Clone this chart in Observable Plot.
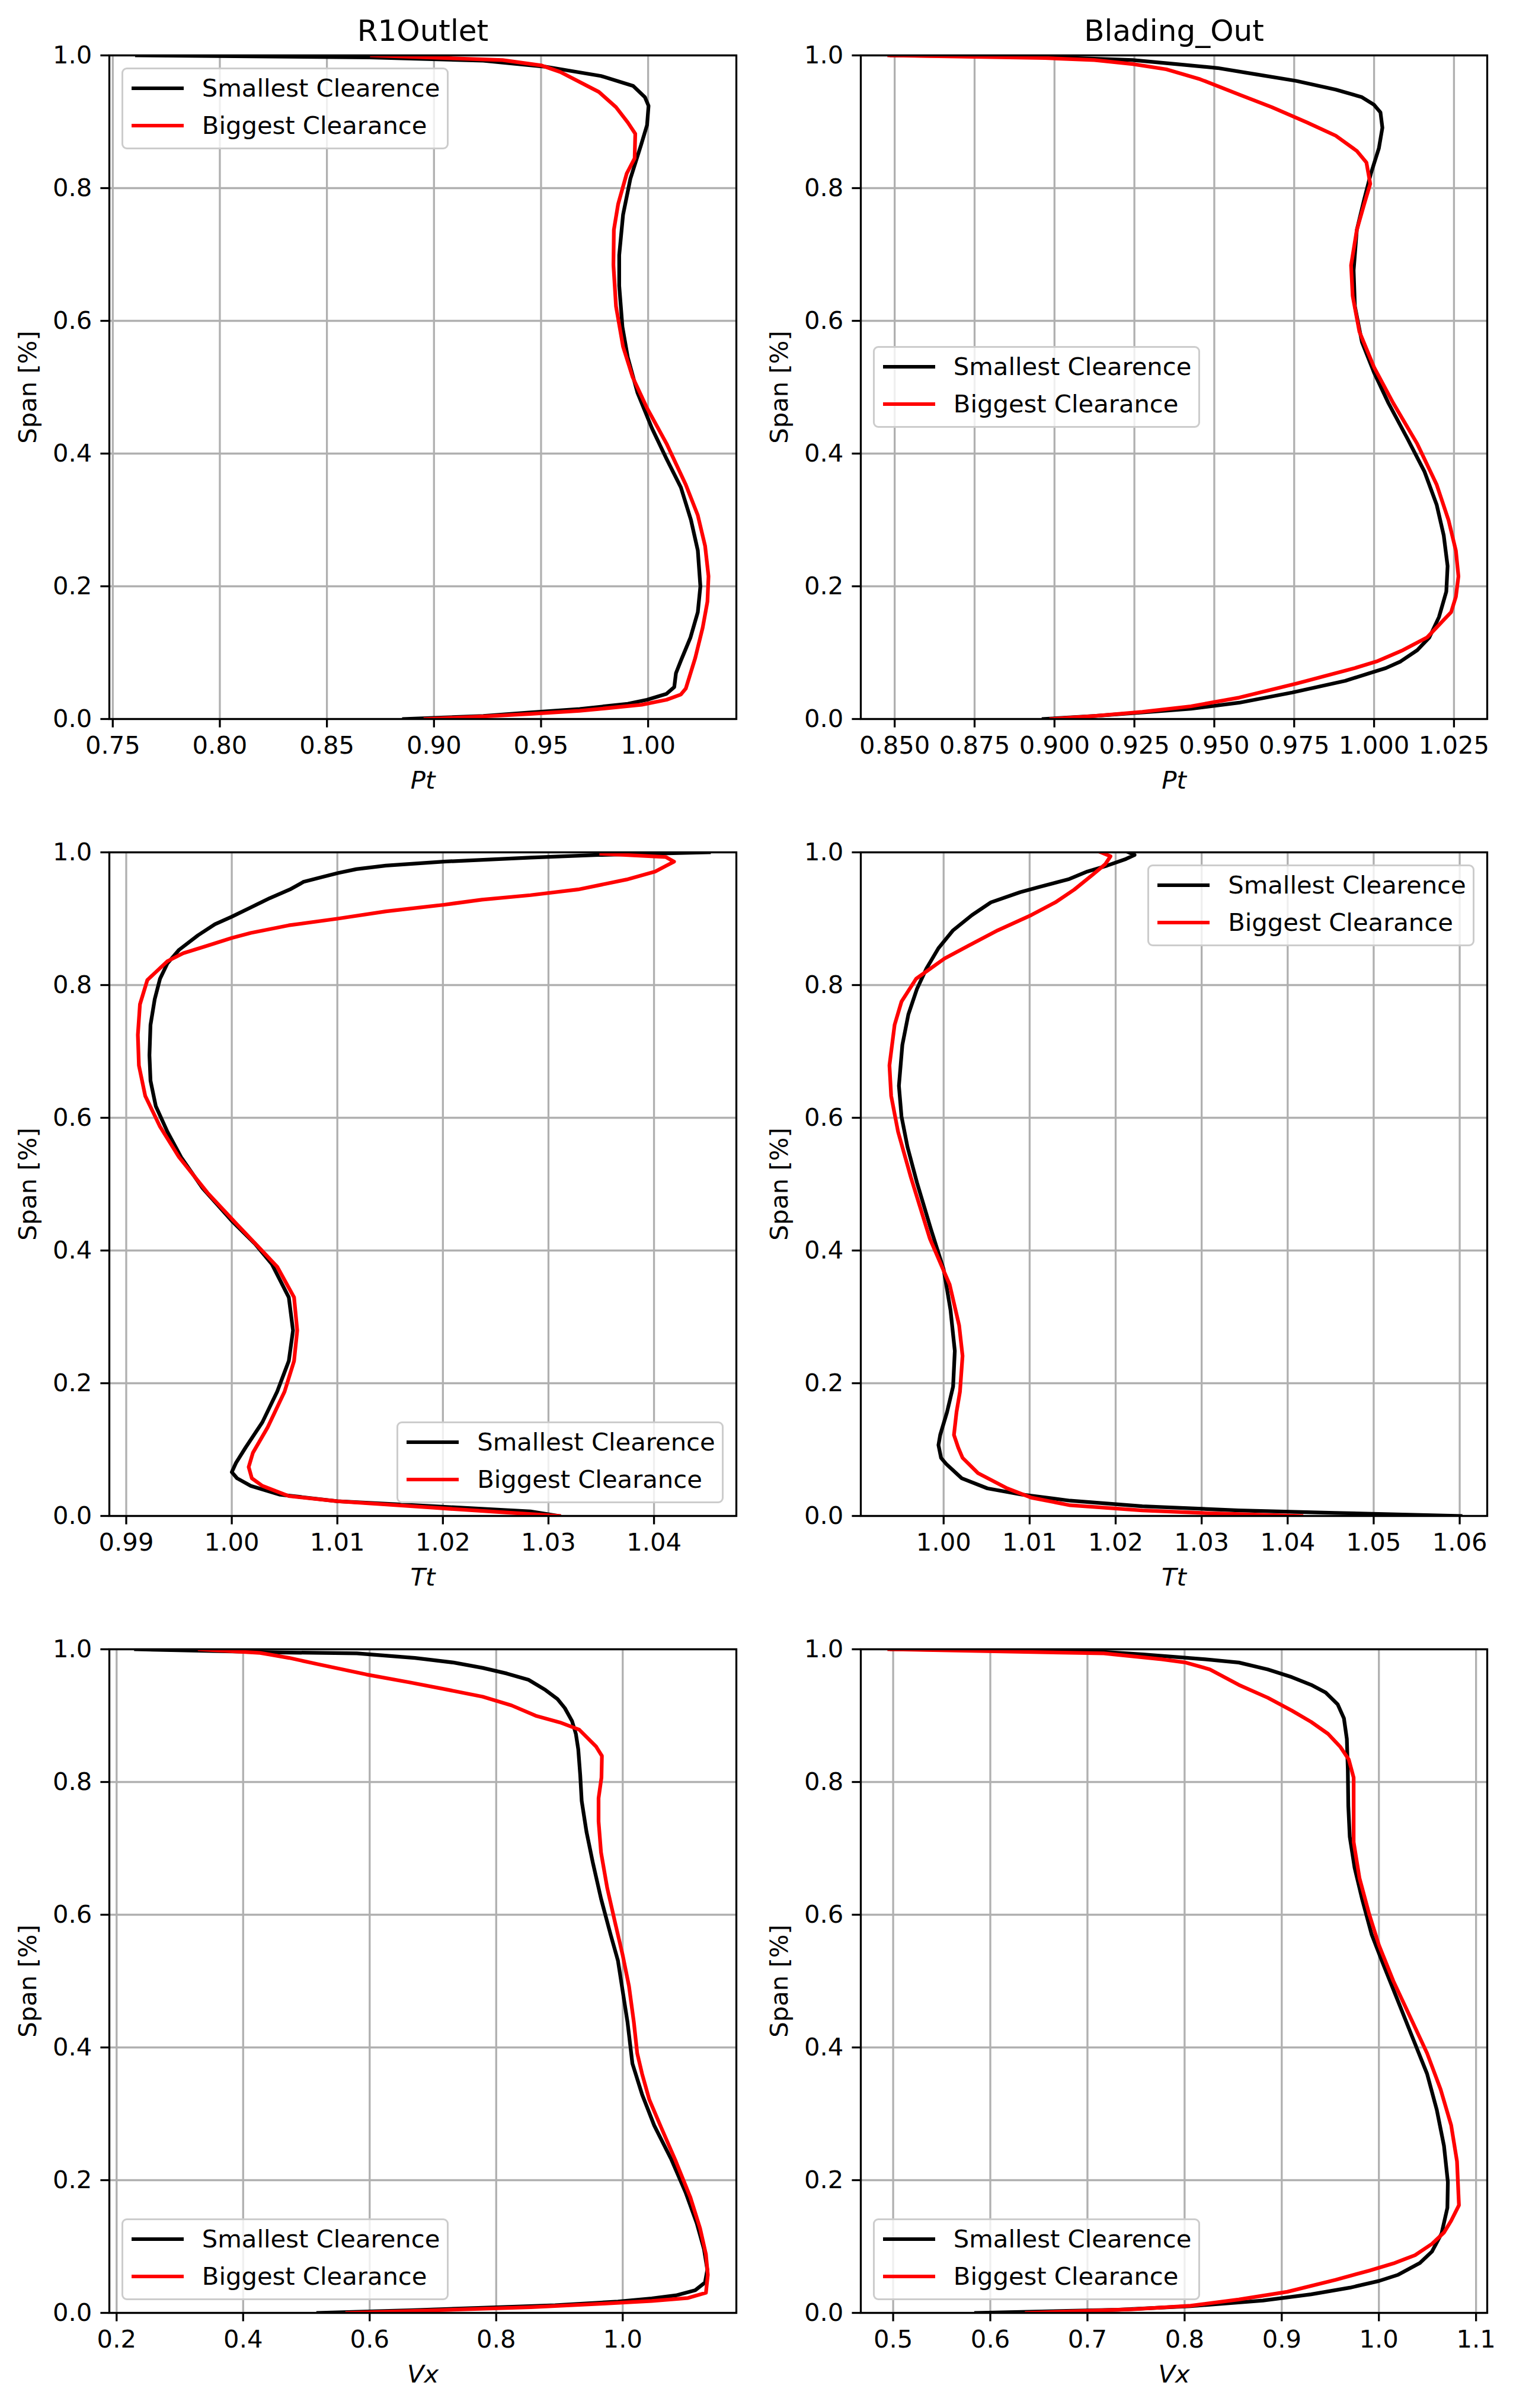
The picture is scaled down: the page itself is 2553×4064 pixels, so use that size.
<!DOCTYPE html>
<html><head><meta charset="utf-8">
<script src="https://cdn.jsdelivr.net/npm/d3@7"></script>
<script src="https://cdn.jsdelivr.net/npm/@observablehq/plot@0.6"></script>
<style>
body{margin:0;background:#fff;}
#fig{position:relative;width:2553px;height:4064px;background:#fff;font-family:"DejaVu Sans",sans-serif;overflow:hidden;}
#fig svg{position:absolute;overflow:visible;}
.legend{position:absolute;box-sizing:border-box;width:552px;height:138px;border:3.3px solid #cccccc;border-radius:9px;background:rgba(255,255,255,0.8);}
.lh{position:absolute;left:14px;width:88px;height:6.25px;}
.lt{position:absolute;left:133px;font-size:41.7px;line-height:1;white-space:nowrap;transform:translateY(-50%);color:#000;}
</style>
</head><body>
<div id="fig"></div>
<script>
// ---- tick values & labels ----
const spanTicks = [0, 0.2, 0.4, 0.6, 0.8, 1.0];
const spanLabels = ["0.0", "0.2", "0.4", "0.6", "0.8", "1.0"];
const r1PtTicks = [0.75, 0.80, 0.85, 0.90, 0.95, 1.00];
const r1PtLabels = ["0.75", "0.80", "0.85", "0.90", "0.95", "1.00"];
const boPtTicks = [0.850, 0.875, 0.900, 0.925, 0.950, 0.975, 1.000, 1.025];
const boPtLabels = ["0.850", "0.875", "0.900", "0.925", "0.950", "0.975", "1.000", "1.025"];
const r1TtTicks = [0.99, 1.00, 1.01, 1.02, 1.03, 1.04];
const r1TtLabels = ["0.99", "1.00", "1.01", "1.02", "1.03", "1.04"];
const boTtTicks = [1.00, 1.01, 1.02, 1.03, 1.04, 1.05, 1.06];
const boTtLabels = ["1.00", "1.01", "1.02", "1.03", "1.04", "1.05", "1.06"];
const r1VxTicks = [0.2, 0.4, 0.6, 0.8, 1.0];
const r1VxLabels = ["0.2", "0.4", "0.6", "0.8", "1.0"];
const boVxTicks = [0.5, 0.6, 0.7, 0.8, 0.9, 1.0, 1.1];
const boVxLabels = ["0.5", "0.6", "0.7", "0.8", "0.9", "1.0", "1.1"];

const titles = ["R1Outlet", "Blading_Out"];
const seriesNames = ["Smallest Clearence", "Biggest Clearance"];
const seriesColors = ["#000000", "#ff0000"];

// ---- series: [value, span] ----
const r1PtSmall = [[0.7613,1.0],[0.87,0.997],[0.923,0.992],[0.952,0.983],[0.978,0.969],[0.993,0.954],[0.9985,0.937],[1.0002,0.924],[0.9995,0.895],[0.9966,0.864],[0.9917,0.814],[0.9883,0.760],[0.9865,0.699],[0.9865,0.653],[0.988,0.591],[0.9905,0.545],[0.995,0.492],[1.0018,0.438],[1.0086,0.392],[1.0153,0.349],[1.020,0.300],[1.0232,0.254],[1.0244,0.200],[1.0232,0.161],[1.0198,0.123],[1.0153,0.088],[1.013,0.069],[1.0122,0.048],[1.0086,0.038],[0.9995,0.029],[0.9905,0.023],[0.968,0.015],[0.945,0.010],[0.923,0.0046],[0.886,0.0]];
const r1PtBig = [[0.871,1.0],[0.932,0.993],[0.950,0.985],[0.959,0.975],[0.977,0.945],[0.985,0.922],[0.9905,0.899],[0.994,0.882],[0.9937,0.845],[0.990,0.822],[0.986,0.776],[0.984,0.737],[0.9838,0.684],[0.985,0.622],[0.9883,0.561],[0.9928,0.515],[0.9995,0.4685],[1.0086,0.415],[1.0176,0.353],[1.0232,0.307],[1.0266,0.261],[1.0282,0.215],[1.0277,0.177],[1.0255,0.138],[1.022,0.092],[1.0176,0.046],[1.0153,0.037],[1.0086,0.029],[0.997,0.0215],[0.968,0.0123],[0.945,0.0077],[0.923,0.0038],[0.896,0.0]];
const boPtSmall = [[0.849,1.0],[0.9004,0.997],[0.9245,0.993],[0.938,0.987],[0.951,0.981],[0.963,0.9716],[0.9756,0.9616],[0.988,0.9485],[0.9962,0.937],[1.0,0.9255],[1.002,0.914],[1.0026,0.891],[1.0015,0.860],[0.999,0.822],[0.9969,0.783],[0.9946,0.737],[0.9936,0.676],[0.994,0.622],[0.9962,0.568],[1.0,0.522],[1.0045,0.476],[1.0105,0.422],[1.0158,0.3725],[1.0196,0.3226],[1.0218,0.2765],[1.023,0.2304],[1.0226,0.192],[1.0203,0.1536],[1.0173,0.123],[1.0135,0.1037],[1.0083,0.0868],[1.0037,0.0768],[0.9985,0.069],[0.991,0.0576],[0.9744,0.040],[0.9578,0.0246],[0.9427,0.0154],[0.9275,0.010],[0.9125,0.0046],[0.8966,0.0]];
const boPtBig = [[0.8483,1.0],[0.897,0.996],[0.9125,0.993],[0.9245,0.987],[0.935,0.979],[0.9456,0.964],[0.9578,0.941],[0.968,0.922],[0.979,0.899],[0.988,0.879],[0.9946,0.856],[0.9976,0.8387],[0.9988,0.8065],[0.9969,0.7757],[0.9946,0.737],[0.9928,0.6836],[0.9933,0.6375],[0.9954,0.5837],[1.0,0.530],[1.006,0.476],[1.0135,0.4147],[1.0196,0.353],[1.0233,0.2995],[1.0256,0.2535],[1.0264,0.215],[1.0256,0.1843],[1.0241,0.161],[1.0166,0.123],[1.009,0.1037],[1.0008,0.0868],[0.994,0.0768],[0.976,0.0538],[0.9578,0.0323],[0.9427,0.0192],[0.9275,0.0108],[0.9125,0.0046],[0.899,0.0]];
const r1TtSmall = [[1.0452,1.0],[1.0347,0.996],[1.0283,0.992],[1.0201,0.986],[1.0146,0.980],[1.0118,0.9747],[1.0101,0.969],[1.0086,0.963],[1.0068,0.9555],[1.0055,0.944],[1.0036,0.931],[1.0018,0.917],[1.0,0.903],[0.9984,0.8917],[0.9968,0.875],[0.995,0.853],[0.9939,0.8326],[0.9932,0.8095],[0.9927,0.7788],[0.9923,0.740],[0.9922,0.6943],[0.9923,0.656],[0.9928,0.6175],[0.9939,0.579],[0.9952,0.5407],[0.9972,0.4946],[1.0,0.4447],[1.0022,0.410],[1.0038,0.3794],[1.0054,0.3295],[1.0058,0.2796],[1.0054,0.2335],[1.0043,0.1874],[1.0029,0.1413],[1.0013,0.1029],[1.0004,0.080],[1.0,0.066],[1.0005,0.0568],[1.0018,0.0453],[1.0045,0.0323],[1.0100,0.0223],[1.0192,0.0146],[1.0283,0.0069],[1.031,0.0]];
const r1TtBig = [[1.0350,0.998],[1.0411,0.993],[1.0419,0.986],[1.0413,0.981],[1.0401,0.971],[1.0374,0.959],[1.0328,0.944],[1.0283,0.9355],[1.0237,0.9286],[1.0201,0.921],[1.0146,0.911],[1.0100,0.900],[1.0054,0.890],[1.0018,0.8786],[1.0,0.871],[0.9977,0.8594],[0.9954,0.848],[0.9939,0.836],[0.9920,0.8076],[0.9913,0.771],[0.9911,0.725],[0.9912,0.679],[0.9918,0.633],[0.9932,0.5868],[0.995,0.5407],[0.9977,0.487],[1.0004,0.4409],[1.0027,0.4025],[1.0043,0.3756],[1.0059,0.3295],[1.0062,0.2796],[1.0059,0.2335],[1.005,0.1874],[1.0034,0.1336],[1.002,0.0952],[1.0016,0.0737],[1.0019,0.0568],[1.0029,0.0453],[1.0054,0.030],[1.0100,0.0223],[1.0192,0.0123],[1.031,0.0]];
const boTtSmall = [[1.0215,1.0],[1.0222,0.996],[1.0212,0.990],[1.019,0.980],[1.0167,0.971],[1.0145,0.9593],[1.0111,0.9478],[1.0089,0.940],[1.0055,0.9247],[1.0033,0.9055],[1.0011,0.8825],[0.9994,0.8556],[0.998,0.8249],[0.9969,0.7942],[0.9959,0.7558],[0.9952,0.7097],[0.9948,0.6482],[0.9951,0.6022],[0.9958,0.556],[0.9969,0.5023],[0.9985,0.4332],[1.0,0.3717],[1.0008,0.3103],[1.0013,0.2488],[1.0011,0.195],[1.0004,0.1567],[0.9996,0.1221],[0.9994,0.1068],[0.9997,0.0876],[1.0003,0.0783],[1.0021,0.0568],[1.0051,0.0415],[1.0091,0.0323],[1.0147,0.023],[1.0231,0.0146],[1.0343,0.0084],[1.0455,0.0046],[1.0601,0.0]];
const boTtBig = [[1.0183,1.0],[1.0194,0.994],[1.0188,0.9823],[1.0174,0.967],[1.0152,0.944],[1.013,0.9247],[1.0102,0.9055],[1.0063,0.8825],[1.0029,0.8594],[1.0001,0.840],[0.9968,0.8095],[0.9951,0.775],[0.9943,0.740],[0.9937,0.679],[0.9939,0.633],[0.9947,0.579],[0.9962,0.510],[0.9984,0.4178],[1.0007,0.3487],[1.0018,0.2873],[1.0022,0.2412],[1.0019,0.1874],[1.0015,0.1567],[1.0012,0.1221],[1.0017,0.1029],[1.0022,0.0876],[1.004,0.0645],[1.0074,0.0415],[1.0102,0.0276],[1.0147,0.0161],[1.0231,0.0084],[1.0315,0.0038],[1.0416,0.0]];
const r1VxSmall = [[0.2306,1.0],[0.4575,0.9953],[0.5798,0.9938],[0.6715,0.987],[0.7326,0.980],[0.7785,0.972],[0.8167,0.9635],[0.8511,0.954],[0.8778,0.9387],[0.8969,0.925],[0.9084,0.9115],[0.9198,0.892],[0.9259,0.8727],[0.9297,0.8494],[0.9328,0.8106],[0.9351,0.7717],[0.9427,0.725],[0.9527,0.6786],[0.9657,0.6242],[0.9809,0.5699],[0.9924,0.531],[1.0,0.4845],[1.0076,0.4379],[1.0153,0.3758],[1.0306,0.3292],[1.0497,0.2826],[1.0764,0.2321],[1.0993,0.1817],[1.117,0.1351],[1.1284,0.0963],[1.1337,0.0652],[1.13,0.0458],[1.1146,0.0342],[1.084,0.0264],[1.0458,0.0217],[0.9924,0.0171],[0.893,0.0116],[0.7785,0.0078],[0.6638,0.0039],[0.5187,0.0]];
const r1VxBig = [[0.3314,1.0],[0.4268,0.9946],[0.4727,0.987],[0.5185,0.9775],[0.595,0.962],[0.6638,0.950],[0.725,0.9387],[0.7785,0.9286],[0.8243,0.9154],[0.8625,0.8998],[0.9007,0.8898],[0.9312,0.8789],[0.9580,0.8533],[0.9671,0.8393],[0.9664,0.8067],[0.9618,0.7756],[0.9618,0.7407],[0.9657,0.694],[0.9756,0.6398],[0.9886,0.5854],[1.0,0.5388],[1.0099,0.4922],[1.0176,0.4379],[1.0229,0.3913],[1.0306,0.3602],[1.042,0.3214],[1.0611,0.2787],[1.084,0.2283],[1.107,0.1739],[1.1223,0.1273],[1.1315,0.0885],[1.1345,0.0575],[1.1315,0.0303],[1.1032,0.0225],[1.0458,0.0179],[0.9694,0.014],[0.8549,0.0085],[0.7021,0.0039],[0.5645,0.0]];
const boVxSmall = [[0.4985,1.0],[0.7069,0.9969],[0.7566,0.9922],[0.8211,0.985],[0.8558,0.980],[0.8856,0.9697],[0.9104,0.958],[0.9303,0.9464],[0.9452,0.9348],[0.9576,0.917],[0.964,0.896],[0.967,0.865],[0.968,0.8183],[0.9685,0.764],[0.970,0.7174],[0.975,0.6708],[0.9826,0.6242],[0.9926,0.5699],[1.005,0.5233],[1.0199,0.469],[1.0347,0.4146],[1.0496,0.3603],[1.0596,0.3059],[1.067,0.2516],[1.071,0.1972],[1.0705,0.1584],[1.0645,0.1196],[1.0546,0.0924],[1.0422,0.0753],[1.0199,0.0575],[1.0,0.0481],[0.9702,0.038],[0.9303,0.028],[0.8806,0.0186],[0.806,0.0101],[0.7318,0.0047],[0.5854,0.0]];
const boVxBig = [[0.496,1.0],[0.7168,0.9938],[0.7764,0.985],[0.8012,0.980],[0.826,0.9697],[0.8558,0.9464],[0.8856,0.927],[0.9104,0.9076],[0.9303,0.8905],[0.9476,0.8727],[0.9601,0.8533],[0.969,0.8339],[0.974,0.8067],[0.974,0.764],[0.974,0.7096],[0.98,0.6553],[0.99,0.6009],[1.0,0.5543],[1.0149,0.5],[1.0323,0.4457],[1.0496,0.3913],[1.0635,0.337],[1.0744,0.2826],[1.0804,0.2283],[1.0824,0.1623],[1.0744,0.139],[1.067,0.1211],[1.0546,0.104],[1.0372,0.087],[1.0149,0.0745],[0.99,0.0637],[0.9553,0.0497],[0.9057,0.0318],[0.8558,0.0202],[0.8062,0.0109],[0.7467,0.0054],[0.6375,0.0]];

// ---- layout (px) ----
const colLeft = [184, 1452], colWidth = [1058, 1057];
const rowTop = [93, 1438, 2783], rowHeight = 1120;
const M = {top: 100, right: 40, bottom: 140, left: 180};

const panels = [
  {r:0,c:0,xlab:"Pt",ticks:r1PtTicks,labels:r1PtLabels,domain:[0.7484,1.0412],s:[r1PtSmall,r1PtBig],legend:"ul",title:titles[0]},
  {r:0,c:1,xlab:"Pt",ticks:boPtTicks,labels:boPtLabels,domain:[0.8394,1.0354],s:[boPtSmall,boPtBig],legend:"cl",title:titles[1]},
  {r:1,c:0,xlab:"Tt",ticks:r1TtTicks,labels:r1TtLabels,domain:[0.9884,1.0478],s:[r1TtSmall,r1TtBig],legend:"lr"},
  {r:1,c:1,xlab:"Tt",ticks:boTtTicks,labels:boTtLabels,domain:[0.99037,1.0632],s:[boTtSmall,boTtBig],legend:"ur"},
  {r:2,c:0,xlab:"Vx",ticks:r1VxTicks,labels:r1VxLabels,domain:[0.1885,1.1796],s:[r1VxSmall,r1VxBig],legend:"ll"},
  {r:2,c:1,xlab:"Vx",ticks:boVxTicks,labels:boVxLabels,domain:[0.4667,1.1115],s:[boVxSmall,boVxBig],legend:"ll"}
];

const fig = document.getElementById("fig");
const spanMap = new Map(spanTicks.map((t,i)=>[t,spanLabels[i]]));
const LW = 3.3, FS = 41.7;

for (const p of panels) {
  const L = colLeft[p.c], T = rowTop[p.r], W = colWidth[p.c], H = rowHeight;
  const xMap = new Map(p.ticks.map((t,i)=>[t,p.labels[i]]));
  const marks = [
    Plot.gridX(p.ticks, {stroke:"#b0b0b0", strokeOpacity:1, strokeWidth:LW}),
    Plot.gridY(spanTicks, {stroke:"#b0b0b0", strokeOpacity:1, strokeWidth:LW}),
  ];
  p.s.forEach((ser, k) => {
    marks.push(Plot.line(ser, {x: d=>d[0], y: d=>d[1], stroke: seriesColors[k], strokeWidth: 6.25, clip: true, strokeLinejoin:"round", strokeLinecap:"square"}));
  });
  marks.push(
    Plot.frame({stroke:"#000", strokeWidth:LW}),
    Plot.axisX(p.ticks, {tickFormat: d=>xMap.get(d), tickSize:14.6, tickPadding:14.6, strokeWidth:LW, fontSize:FS, label:null}),
    Plot.axisY(spanTicks, {tickFormat: d=>spanMap.get(d), tickSize:14.6, tickPadding:14.6, strokeWidth:LW, fontSize:FS, label:null}),
    Plot.text([p.xlab], {frameAnchor:"bottom", text:d=>d, dy:104, lineAnchor:"middle", textAnchor:"middle", fontSize:FS, fontStyle:"italic"}),
    Plot.text(["Span [%]"], {frameAnchor:"left", text:d=>d, dx:-137, rotate:-90, lineAnchor:"middle", textAnchor:"middle", fontSize:FS})
  );
  if (p.title) marks.push(Plot.text([p.title], {frameAnchor:"top", text:d=>d, dy:-25, lineAnchor:"bottom", textAnchor:"middle", fontSize:50}));
  const svg = Plot.plot({
    width: W + M.left + M.right,
    height: H + M.top + M.bottom,
    marginTop: M.top, marginRight: M.right, marginBottom: M.bottom, marginLeft: M.left,
    x: {domain: p.domain, type:"linear"},
    y: {domain: [0, 1], type:"linear"},
    style: {fontFamily:"DejaVu Sans", fontSize: FS+"px", background:"transparent", color:"#000", overflow:"visible"},
    marks
  });
  svg.style.left = (L - M.left) + "px";
  svg.style.top = (T - M.top) + "px";
  fig.appendChild(svg);

  // legend
  const lg = document.createElement("div");
  lg.className = "legend";
  const BW = 552, BH = 138, pad = 20.8;
  let lx, ly;
  if (p.legend === "ul") { lx = L + pad; ly = T + pad; }
  else if (p.legend === "cl") { lx = L + pad; ly = T + H/2 - BH/2; }
  else if (p.legend === "lr") { lx = L + W - pad - BW; ly = T + H - pad - BH; }
  else if (p.legend === "ur") { lx = L + W - pad - BW; ly = T + pad; }
  else { lx = L + pad; ly = T + H - pad - BH; }
  lg.style.left = lx + "px"; lg.style.top = ly + "px";
  seriesNames.forEach((name, k) => {
    const cy = 32 + k*63;
    const h = document.createElement("div");
    h.className = "lh"; h.style.top = (cy - 3.1) + "px"; h.style.background = seriesColors[k];
    const t = document.createElement("div");
    t.className = "lt"; t.style.top = cy + "px"; t.textContent = name;
    lg.appendChild(h); lg.appendChild(t);
  });
  fig.appendChild(lg);
}
</script>
</body></html>
